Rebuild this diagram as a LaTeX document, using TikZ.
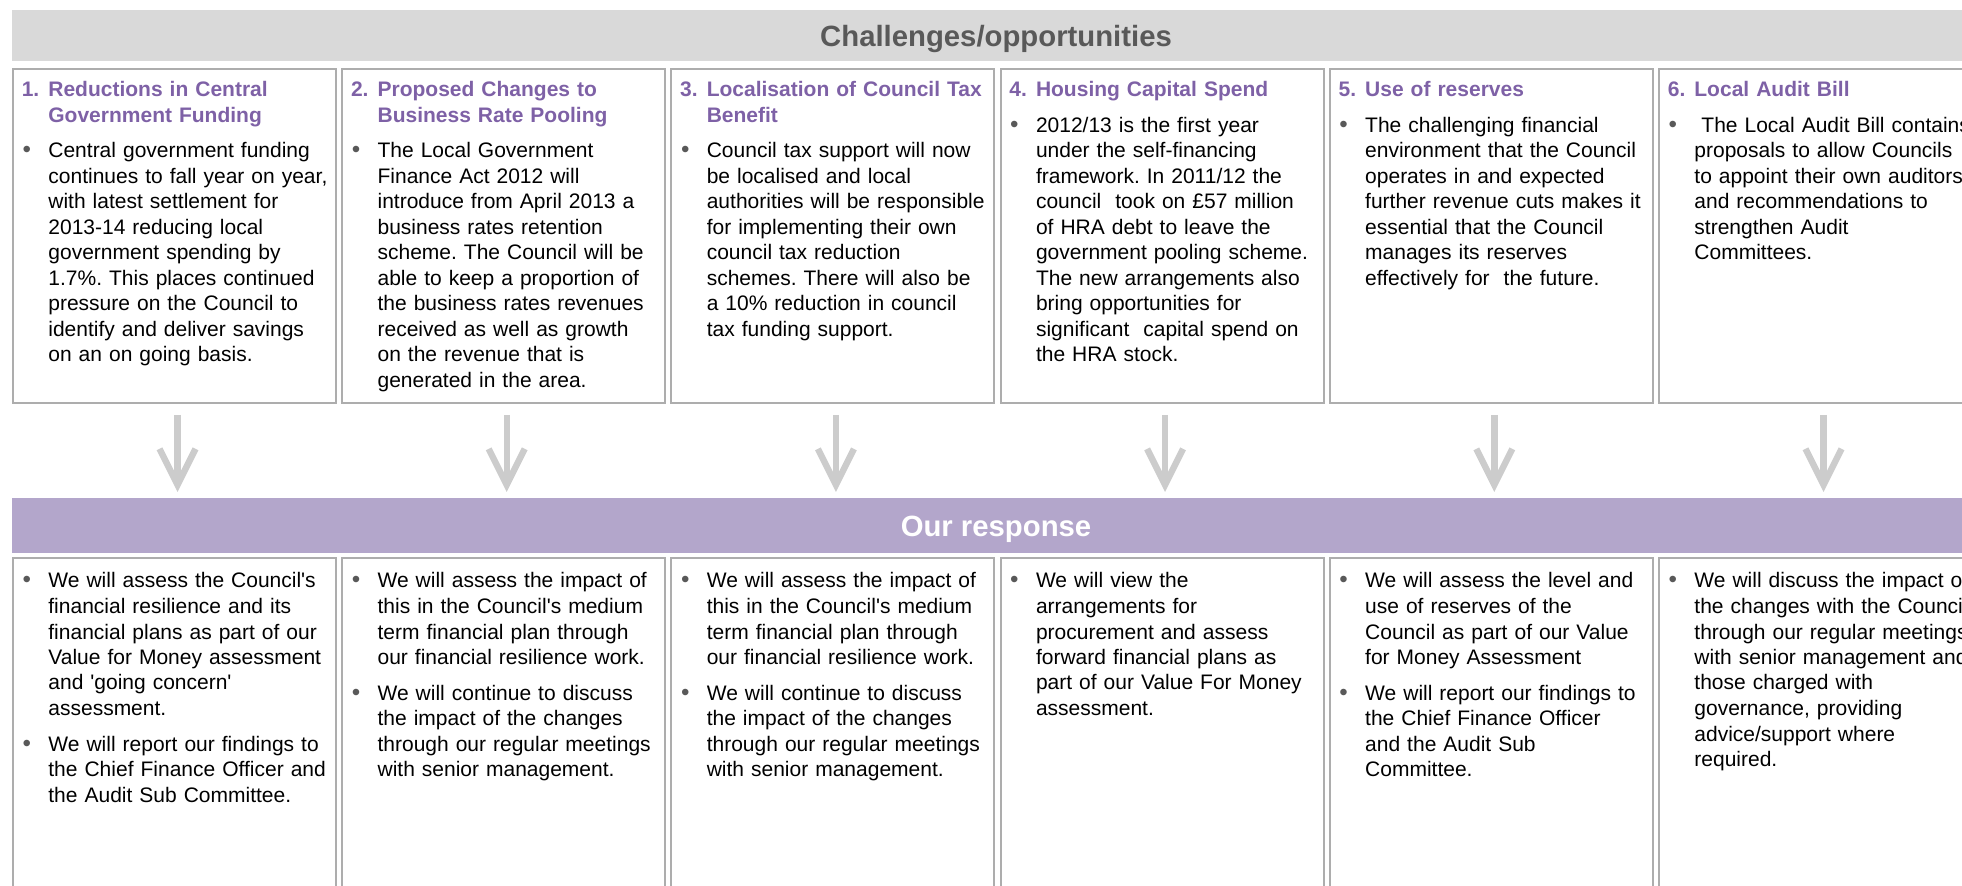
\documentclass[tikz,border=0pt]{standalone}
\usepackage{fontspec}
\setmainfont{Liberation Sans}
\usetikzlibrary{arrows.meta}

\definecolor{bandgray}{HTML}{D9D9D9}
\definecolor{titlegray}{HTML}{595959}
\definecolor{bandpurple}{HTML}{B3A6CB}
\definecolor{headpurple}{HTML}{7E61A6}
\definecolor{boxgray}{HTML}{ADADAD}
\definecolor{arrowgray}{HTML}{CCCCCC}

\newcommand{\hdr}[2]{\hangindent=13.3pt\hangafter=1\noindent{\color{headpurple}\bfseries\makebox[13.3pt][l]{#1}#2}\par}
\newcommand{\bul}{\hangindent=13.3pt\hangafter=1\noindent\makebox[13.3pt][l]{\hspace{0.4pt}\textcolor{titlegray}{\scalebox{1.15}{\textbullet}}}}
\newcommand{\gap}{\par\vspace{5pt}}
\newcommand{\q}{\textquotesingle}

\tikzset{
  card/.style={draw=boxgray, line width=1pt},
  cardtext/.style={anchor=base west, inner sep=0pt, text width=160pt, font=\fontsize{10.5pt}{12.75pt}\selectfont\frenchspacing},
  bandtitle/.style={anchor=base, font=\fontsize{14.65pt}{17pt}\selectfont\bfseries},
  downarrow/.style={arrowgray, line width=3.2pt, -{Straight Barb[length=18pt,width=18pt]}}
}

\begin{document}
\begin{tikzpicture}[x=0.5pt, y=-0.5pt]
\useasboundingbox (0,0) rectangle (1962,886);
\clip (0,0) rectangle (1962,886);

\fill[bandgray] (12,10) rectangle (1982,61);
\node[bandtitle, text=titlegray] (chal) at (996,47) {Challenges/opportunities};

\foreach \i in {0,...,5} {
  \pgfmathsetmacro{\lx}{13+329.2*\i}
  \draw[card] (\lx,69) rectangle ++(323,334);
  \draw[card] (\lx,558) rectangle ++(323,360);
  \coordinate (a\i) at (\lx+164.5,415);
  \coordinate (b\i) at (\lx+164.5,492);
  \draw[downarrow] (a\i) -- (b\i);
}

\fill[bandpurple] (12,498) rectangle (1982,553);
\node[bandtitle, text=white] (resp) at (996,537) {Our response};

\node[cardtext] (ch1) at (21.4,96.7) {%
  \hdr{1.}{Reductions in Central\newline Government Funding}\gap
  \bul Central government funding\newline continues to fall year on year,\newline with latest settlement for\newline 2013-14 reducing local\newline government spending by\newline 1.7\%. This places continued\newline pressure on the Council to\newline identify and deliver savings\newline on an on going basis.\par};
\node[cardtext] (ch2) at (350.6,96.7) {%
  \hdr{2.}{Proposed Changes to\newline Business Rate Pooling}\gap
  \bul The Local Government\newline Finance Act 2012 will\newline introduce from April 2013 a\newline business rates retention\newline scheme. The Council will be\newline able to keep a proportion of\newline the business rates revenues\newline received as well as growth\newline on the revenue that is\newline generated in the area.\par};
\node[cardtext] (ch3) at (679.8,96.7) {%
  \hdr{3.}{Localisation of Council Tax\newline Benefit}\gap
  \bul Council tax support will now\newline be localised and local\newline authorities will be responsible\newline for implementing their own\newline council tax reduction\newline schemes. There will also be\newline a 10\% reduction in council\newline tax funding support.\par};
\node[cardtext] (ch4) at (1009,96.7) {%
  \hdr{4.}{Housing Capital Spend}\gap
  \bul 2012/13 is the first year\newline under the self-financing\newline framework. In 2011/12 the\newline council\ \ took on £57 million\newline of HRA debt to leave the\newline government pooling scheme.\newline The new arrangements also\newline bring opportunities for\newline significant\ \ capital spend on\newline the HRA stock.\par};
\node[cardtext] (ch5) at (1338.2,96.7) {%
  \hdr{5.}{Use of reserves}\gap
  \bul The challenging financial\newline environment that the Council\newline operates in and expected\newline further revenue cuts makes it\newline essential that the Council\newline manages its reserves\newline effectively for\ \ the future.\par};
\node[cardtext] (ch6) at (1667.4,96.7) {%
  \hdr{6.}{Local Audit Bill}\gap
  \bul \ The Local Audit Bill contains\newline proposals to allow Councils\newline to appoint their own auditors\newline and recommendations to\newline strengthen Audit\newline Committees.\par};

\node[cardtext] (re1) at (21.4,588) {%
  \bul We will assess the Council\q s\newline financial resilience and its\newline financial plans as part of our\newline Value for Money assessment\newline and \q going concern\q\newline assessment.\gap
  \bul We will report our findings to\newline the Chief Finance Officer and\newline the Audit Sub Committee.\par};
\node[cardtext] (re2) at (350.6,588) {%
  \bul We will assess the impact of\newline this in the Council\q s medium\newline term financial plan through\newline our financial resilience work.\gap
  \bul We will continue to discuss\newline the impact of the changes\newline through our regular meetings\newline with senior management.\par};
\node[cardtext] (re3) at (679.8,588) {%
  \bul We will assess the impact of\newline this in the Council\q s medium\newline term financial plan through\newline our financial resilience work.\gap
  \bul We will continue to discuss\newline the impact of the changes\newline through our regular meetings\newline with senior management.\par};
\node[cardtext] (re4) at (1009,588) {%
  \bul We will view the\newline arrangements for\newline procurement and assess\newline forward financial plans as\newline part of our Value For Money\newline assessment.\par};
\node[cardtext] (re5) at (1338.2,588) {%
  \bul We will assess the level and\newline use of reserves of the\newline Council as part of our Value\newline for Money Assessment\gap
  \bul We will report our findings to\newline the Chief Finance Officer\newline and the Audit Sub\newline Committee.\par};
\node[cardtext] (re6) at (1667.4,588) {%
  \bul We will discuss the impact of\newline the changes with the Council\newline through our regular meetings\newline with senior management and\newline those charged with\newline governance, providing\newline advice/support where\newline required.\par};
\end{tikzpicture}
\end{document}
